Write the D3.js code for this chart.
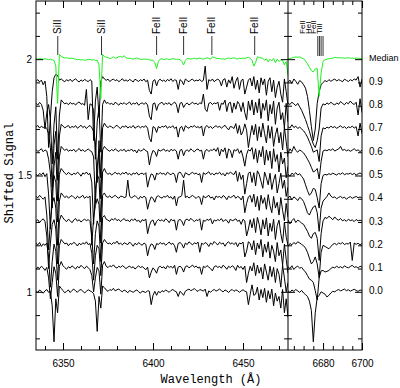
<!DOCTYPE html>
<html><head><meta charset="utf-8">
<script src="https://cdn.jsdelivr.net/npm/d3@7/dist/d3.min.js"></script>
<style>body{margin:0;background:#fff}svg{display:block}</style>
</head><body><svg id="c" width="400" height="388"></svg>
<script>
// ---- data ----
const leftRange = [6335, 6475];   // Å, left panel
const rightRange = [6662, 6700];  // Å, right panel
const leftWl = d3.range(6335, 6476, 1);
const rightWl = d3.range(6662, 6701, 1);
const seriesLabels = ["0.0","0.1","0.2","0.3","0.4","0.5","0.6","0.7","0.8","0.9","Median"];
const seriesOffsets = [1.0,1.1,1.2,1.3,1.4,1.5,1.6,1.7,1.8,1.9,2.0];
// deviations from offset, in units of 0.001
const s0L = [5,-3,8,2,-6,4,10,-2,3,-60, -215,-30,-90,25,15,5,-4,2,8,-3, 6,12,4,-2,7,10,3,-5,2,9, 4,0,-8,-40,-170,-20,-70,25,18,8, 2,10,6,15,4,9,12,5,0,8, 3,-4,6,2,-2,4,8,1,-6,3, 0,-3,5,2,-55,-15,2,-15,2,-4, 5,0,8,3,-2,6,10,4,0,-20, 2,-5,-15,3,8,12,5,9,14,6, 2,10,7,3,12,-20,4,-2,6,10, 3,7,12,5,0,8,4,-3,6,10, 2,8,5,-2,4,9,3,0,-55,-10, 30,-15,-10,20,-35,10,-25,15,-45,5, -30,12,-60,-5,-40,-20,-70,10,-90,-30, -110];
const s1L = [-4,6,0,10,3,-8,5,-40,-130,-60, 8,-20,-120,10,30,12,4,-3,8,2, 12,5,-2,9,3,14,6,0,10,4, -5,-30,-100,-40,5,-10,-110,15,30,10, 4,12,8,16,6,2,10,5,13,7, 0,6,11,3,8,-2,5,12,4,9, 2,-5,6,-40,-15,3,-6,-20,5,10, 3,8,-2,12,5,9,2,14,-25,6, 10,4,-15,8,12,3,9,15,5,11, 2,7,-25,10,4,13,6,0,-10,8, 12,5,9,2,15,7,-3,10,4,12, 6,-8,14,3,9,-4,11,-60,-20,10, -10,25,-30,15,-20,5,-45,20,-15,-50, 10,-35,5,-60,0,-25,-80,15,-40,-100, -60];
const s2L = [8,2,12,-5,6,0,10,-50,-180,-70, 5,-25,-150,0,25,15,6,10,-2,8, 4,13,7,-3,9,2,11,5,15,3, 8,-35,-150,-45,0,-15,-130,10,25,14, 6,10,3,12,8,18,5,9,2,11, 7,3,14,6,-4,9,2,12,5,0, 10,4,-45,-10,6,2,-18,8,3,12, 5,10,0,7,14,4,9,-2,-30,8, 12,5,-12,10,3,15,8,2,11,6, 14,-30,9,4,12,7,-5,10,3,16, 8,2,13,6,10,-4,9,15,5,11, 3,12,-6,10,6,14,-50,-25,15,8, -20,20,-40,10,-15,25,-50,5,-30,15, -55,0,-25,-70,12,-45,-20,-85,5,-60, -120];
const s3L = [3,10,-2,7,14,2,-60,-200,-90,-10, 10,-30,-180,5,30,18,8,2,12,6, -3,9,15,4,10,0,7,13,5,11, 2,-60,-180,-50,5,-20,-170,20,28,12, 8,3,14,9,16,6,11,2,10,15, 5,9,1,12,7,14,3,8,-2,10, 6,13,-50,-15,4,9,-15,3,11,5, 10,2,14,8,-3,12,6,9,-35,7, 11,4,-15,9,13,5,16,8,2,10, 6,14,-35,8,3,12,7,15,-8,9, 4,11,6,15,2,10,7,-5,13,5, 9,14,3,8,-10,12,5,-60,-30,10, -25,15,-45,20,-10,-55,10,-30,18,-60, -5,-40,12,-75,-15,8,-50,-90,0,-65, -100];
const s4L = [10,4,15,6,-2,8,-70,-220,-100,-20, 5,-40,-200,-10,25,15,5,12,3,9, 14,6,0,11,4,8,15,2,9,5, 12,-200,-80,-30,0,-25,-190,15,25,10, 6,13,4,9,15,7,2,11,10,5, 8,80,12,3,9,14,6,-2,10,4, 11,5,-45,-12,8,2,-15,9,13,6, 3,10,7,15,4,9,-2,12,-30,6, 8,14,80,5,11,3,9,15,7,2, 10,6,-25,13,4,9,15,3,8,-5, 12,6,10,3,14,8,-4,11,5,9, 15,2,10,6,-5,12,-60,-20,8,14, -15,20,-35,10,-50,15,-20,5,-45,18, -30,-60,10,-40,-15,-70,5,-50,-95,-20, -80];
const s5L = [6,-2,9,3,12,-5,8,-80,-230,-70, 0,-30,-200,5,30,20,10,4,13,7, 2,10,5,14,8,-3,11,6,15,4, 9,-30,-210,-60,5,-15,-200,15,30,12, 5,11,2,8,14,6,10,3,12,7, 15,4,9,1,11,6,13,2,8,10, 4,12,-50,-15,7,3,-20,10,5,13, 6,9,2,14,8,3,11,5,-30,10, 15,4,-10,12,7,2,9,14,6,11, 3,8,-30,12,5,10,16,4,9,2, 11,7,14,3,9,-2,12,6,15,8, 4,20,-25,13,-17,2,-80,-35,10,15, -30,12,-45,20,5,-25,-55,15,-10,-40, 10,-60,-20,5,-75,-35,10,-55,-20,-90, -50];
const s6L = [12,3,8,15,2,10,5,-30,-90,-240, -60,0,-210,-20,25,15,8,14,4,10, 6,13,2,9,16,5,11,3,8,14, 7,2,-20,-220,-60,0,-200,10,25,15, 9,4,12,6,15,8,3,11,7,13, 2,10,6,14,4,9,-3,12,5,8, 15,6,3,-55,-15,8,2,-18,12,5, 9,14,4,10,2,13,7,11,5,-30, 8,12,-15,6,10,3,15,7,2,11, 14,5,9,-30,6,12,3,10,8,15, 4,20,-16,13,2,19,-26,14,7,-23, 11,5,15,-5,8,-20,-60,-10,12,5, 20,-30,15,-45,8,-20,25,-55,10,-35, 5,-70,15,-40,-10,-85,0,-50,-25,-110, -60];
const s7L = [8,15,4,12,6,10,2,-20,-80,-250, -70,-10,-220,-30,20,12,5,10,15,4, 11,7,14,3,9,16,6,12,2,10, 15,5,-10,-60,-230,-50,-210,5,25,12, 6,13,9,3,11,16,7,2,12,8, 14,4,10,6,15,3,9,12,5,11, 7,14,3,-40,-55,10,6,-15,11,4, 12,8,15,3,10,6,14,2,9,-35, 5,11,-10,14,7,3,12,8,15,6, 10,4,13,-30,8,15,5,11,2,9, 14,7,12,3,10,16,5,-4,11,8, 2,23,-19,15,-26,-10,22,-5,-80,-30, 15,-25,20,-50,10,-35,25,-20,-60,15, -40,10,-75,-25,5,-60,-15,-90,8,-55, -120];
const s8L = [10,3,14,6,-20,-100,-30,5,-60,-250, -80,-5,-230,-40,25,15,8,12,4,14, 7,10,3,12,16,6,9,2,70,-60, 8,4,-20,-230,-70,-10,-200,5,25,10, 14,6,11,3,15,9,2,12,7,13, 5,10,16,4,11,7,14,2,9,12, 6,13,3,-45,-60,8,12,-20,5,10, 15,4,11,7,13,2,9,16,5,-30, 10,14,-8,6,12,3,9,15,7,11, 4,13,8,50,-15,-25,10,14,5,12, 8,16,-20,11,6,24,-25,10,15,-30, 12,-15,18,6,-25,14,-30,-60,20,-20, 25,-40,15,-30,30,-55,10,-20,25,-65, 5,-35,20,-80,-10,15,-60,-30,-95,10, -70];
const s9L = [5,12,2,10,-10,6,-60,-280,-150,-40, 20,35,30,10,15,8,3,12,6,14, 4,10,16,7,2,11,5,13,8,3, 12,6,-250,-80,-20,-150,5,25,15,9, 14,4,10,15,7,12,3,9,16,6, 11,5,13,8,2,14,9,4,12,7, 15,3,10,-35,-50,6,12,-15,8,14, 5,10,3,13,7,16,4,11,9,-30, 12,6,-10,15,8,3,11,14,5,10, 7,13,4,9,70,-30,12,6,15,3, 10,14,8,-15,12,16,-20,11,-4,25, -25,5,22,-30,8,14,-50,-20,10,18, -15,25,-30,10,-45,20,-10,15,-55,5, 20,-40,10,-65,-20,5,-50,-85,15,-40, -100];
const medL = [2,0,3,1,-1,2,0,-2,0,-3, -5,-30,-190,20,12,8,5,6,3,4, 4,2,0,-3,-1,-4,-2,-5,-3,-2, 0,-4,-2,-6,-5,-25,-170,20,12,8, 8,2,5,10,4,6,10,12,8,15, 6,3,4,2,0,3,5,2,0,-2, 1,-1,0,-3,-4,-5,-15,-40,-10,0, 2,-2,0,1,-2,0,2,1,-1,0, -2,-10,-25,-5,3,2,0,2,4,1, 3,5,2,0,3,6,4,0,10,8, 4,2,3,0,2,-1,3,5,2,4, 6,3,1,4,2,5,3,6,8,4, -5,-30,-15,10,8,5,4,-5,2,-12, 0,-8,3,-15,0,-10,-3,-5,-25,-10, -70];
const s0R = [5,-3,8,2,10,4,-2,6,-5,-12, -20,-40,-80,-215,-90,-25,-15,0,-5,-10, -22,-15,-5,2,0,6,10,4,8,12, 5,9,3,7,11,6,2,8,5];
const s1R = [8,0,12,-4,6,10,2,5,-6,-15, -30,-45,-50,-60,-95,-135,-40,-10,-8,-15, -12,-8,0,6,3,10,4,8,2,12, 6,3,9,14,5,8,2,10,6];
const s2R = [-5,8,2,12,5,15,10,4,-2,-12, -30,-55,-80,-70,-50,-80,-140,-30,0,-5, -10,-15,-6,4,8,2,10,6,12,3, 8,5,14,-65,10,4,9,2,7];
const s3R = [10,-8,6,15,-2,8,3,-5,-10,-25, -40,-60,-70,-50,-45,-70,-165,-50,5,20, 15,25,18,10,22,12,8,15,5,10, 3,12,6,9,2,11,5,8,4];
const s4R = [3,12,-5,8,2,-8,6,0,-12,-35, -60,-70,-50,-35,-30,-60,-140,-40,-10,0, 10,25,12,5,8,0,6,10,3,7, -2,5,9,2,6,10,4,8,3];
const s5R = [6,-3,10,4,12,2,8,-4,-15,-40, -65,-85,-75,-55,-60,-95,-140,-35,0,5, 2,8,4,10,6,2,9,5,12,3, 8,6,10,4,9,2,7,11,5];
const s6R = [-6,15,3,25,8,0,10,4,-3,-15, -30,-45,-65,-85,-80,-70,-115,-40,5,10, 6,12,8,15,5,10,14,25,8,12, 6,10,4,9,15,7,10,3,8];
const s7R = [10,4,18,6,12,2,8,0,-8,-20, -35,-55,-75,-100,-95,-90,-140,-30,5,0, 8,4,12,6,10,3,8,14,5,10, 2,9,6,12,4,10,-30,25,-20];
const s8R = [12,5,15,8,0,10,-5,-20,-40,-60, -85,-110,-140,-165,-180,-150,-100,-10,8,3, 12,6,15,8,3,12,6,18,10,4, 14,8,20,10,5,15,-40,30,-30];
const s9R = [0,10,-5,15,5,-8,8,2,-10,-25, -60,-120,-190,-250,-200,-90,-40,-10,0,8, 3,12,5,10,15,6,12,8,3,14, 9,4,12,7,15,10,25,-20,15];
const medR = [0,3,5,8,10,8,10,5,2,-8, -20,-35,-50,-55,-42,-40,-160,-60,-10,-3, 0,2,3,5,8,6,7,5,6,4, 5,6,4,5,3,5,4,3,4];
const leftSeries = [s0L,s1L,s2L,s3L,s4L,s5L,s6L,s7L,s8L,s9L,medL];
const rightSeries = [s0R,s1R,s2R,s3R,s4R,s5R,s6R,s7R,s8R,s9R,medR];
const lineNames = ["SiII","SiII","FeII","FeII","FeII","FeII"];
const lineWl = [6347.1,6371.4,6402.0,6417.0,6432.7,6456.5];
const clusterNames = ["FeII","HeI","FeII","TiII"];
const clusterWl = [6677.3,6678.15,6679.0,6680.0];
const yMajor = [1,1.5,2];
const leftMajor = [6350,6400,6450];
const rightMajor = [6680,6700];

// ---- layout ----
const svg = d3.select("#c");
const L = 36, B = 288, R = 362, T = 1, BOT = 350;
const xL = d3.scaleLinear().domain(leftRange).range([L, B]);
const xR = d3.scaleLinear().domain(rightRange).range([B, R]);
const y = d3.scaleLinear().domain([0.75, 2.25]).range([BOT, T]);
const sans = "'Liberation Sans', Arial, Helvetica, sans-serif";
const mono = "'Liberation Mono', 'Courier New', monospace";

const defs = svg.append("defs");
defs.append("clipPath").attr("id","cl").append("rect").attr("x",L).attr("y",T).attr("width",B-L).attr("height",BOT-T);
defs.append("clipPath").attr("id","cr").append("rect").attr("x",B).attr("y",T).attr("width",R-B).attr("height",BOT-T);

function drawPanel(xs, wl, series, clip){
  const g = svg.append("g").attr("clip-path", `url(#${clip})`);
  series.forEach((dev, i) => {
    const off = seriesOffsets[i];
    const pts = wl.map((w, k) => [w, off + dev[k] / 1000]).filter(p => !isNaN(p[1]));
    const line = d3.line().x(p => xs(p[0])).y(p => y(p[1]));
    g.append("path").datum(pts).attr("d", line)
      .attr("fill","none")
      .attr("stroke", seriesLabels[i] === "Median" ? "#1ff01f" : "#000")
      .attr("stroke-width", 1).attr("stroke-linejoin","round");
  });
}
drawPanel(xL, leftWl, leftSeries, "cl");
drawPanel(xR, rightWl, rightSeries, "cr");

// frame and divider
svg.append("rect").attr("x",L).attr("y",T).attr("width",R-L).attr("height",BOT-T)
  .attr("fill","none").attr("stroke","#000").attr("stroke-width",1);
svg.append("line").attr("x1",B).attr("x2",B).attr("y1",T).attr("y2",BOT).attr("stroke","#000");

function styleAxis(g){ g.select(".domain").remove(); g.selectAll("line").attr("stroke","#000");
  g.selectAll("text").attr("font-family", sans).attr("font-size", 10).attr("fill","#000"); }

const leftMinor = d3.range(6340, 6475, 10).filter(v => !leftMajor.includes(v));
const rightMinor = d3.range(6665, 6700, 5).filter(v => !rightMajor.includes(v));
// bottom axes
svg.append("g").attr("transform",`translate(0,${BOT})`).call(d3.axisBottom(xL).tickValues(leftMinor).tickSize(-4).tickFormat("")).call(styleAxis);
svg.append("g").attr("transform",`translate(0,${BOT})`).call(d3.axisBottom(xL).tickValues(leftMajor).tickSize(-7).tickPadding(10).tickFormat(d3.format("d"))).call(styleAxis);
svg.append("g").attr("transform",`translate(0,${BOT})`).call(d3.axisBottom(xR).tickValues(rightMinor).tickSize(-4).tickFormat("")).call(styleAxis);
svg.append("g").attr("transform",`translate(0,${BOT})`).call(d3.axisBottom(xR).tickValues(rightMajor).tickSize(-7).tickPadding(10).tickFormat(d3.format("d"))).call(styleAxis);
// top axes
svg.append("g").attr("transform",`translate(0,${T})`).call(d3.axisTop(xL).tickValues(leftMinor).tickSize(-4).tickFormat("")).call(styleAxis);
svg.append("g").attr("transform",`translate(0,${T})`).call(d3.axisTop(xL).tickValues(leftMajor).tickSize(-7).tickFormat("")).call(styleAxis);
svg.append("g").attr("transform",`translate(0,${T})`).call(d3.axisTop(xR).tickValues(rightMinor).tickSize(-4).tickFormat("")).call(styleAxis);
svg.append("g").attr("transform",`translate(0,${T})`).call(d3.axisTop(xR).tickValues(rightMajor).tickSize(-7).tickFormat("")).call(styleAxis);
// y axes
const yMinor = d3.range(8, 23).map(v => v / 10).filter(v => !yMajor.includes(v));
svg.append("g").attr("transform",`translate(${L},0)`).call(d3.axisLeft(y).tickValues(yMinor).tickSize(-4).tickFormat("")).call(styleAxis);
svg.append("g").attr("transform",`translate(${L},0)`).call(d3.axisLeft(y).tickValues(yMajor).tickSize(-7).tickPadding(4).tickFormat(d3.format("~g"))).call(styleAxis);
[[R,-4,yMinor],[R,-7,yMajor],[B,-4,yMinor],[B,-7,yMajor]].forEach(([x,s,v]) => {
  svg.append("g").attr("transform",`translate(${x},0)`).call(d3.axisRight(y).tickValues(v).tickSize(s).tickFormat("")).call(styleAxis);
});
[[B,-4,yMinor],[B,-7,yMajor]].forEach(([x,s,v]) => {
  svg.append("g").attr("transform",`translate(${x},0)`).call(d3.axisLeft(y).tickValues(v).tickSize(s).tickFormat("")).call(styleAxis);
});

// spectral line identifications
const idg = svg.append("g");
lineNames.forEach((n, i) => {
  const x = xL(lineWl[i]);
  idg.append("line").attr("x1",x).attr("x2",x).attr("y1",36).attr("y2",55).attr("stroke","#333").attr("stroke-width",1);
  idg.append("text").attr("transform",`translate(${x},34) rotate(-90)`).attr("dy","0.35em")
    .attr("font-family",sans).attr("font-size",10).text(n);
});
const clusterTextX = [302.5, 308, 313.5, 319];
clusterNames.forEach((n, i) => {
  const x = xR(clusterWl[i]);
  idg.append("line").attr("x1",x).attr("x2",x).attr("y1",36).attr("y2",56).attr("stroke","#333").attr("stroke-width",1);
  idg.append("text").attr("transform",`translate(${clusterTextX[i]},34) rotate(-90)`).attr("dy","0.35em")
    .attr("font-family",sans).attr("font-size",8).text(n);
});

// series labels
seriesLabels.forEach((s, i) => {
  svg.append("text").attr("x",369).attr("y", y(seriesOffsets[i]) - 1).attr("dy","0.35em")
    .attr("font-family",sans).attr("font-size", s === "Median" ? 9 : 10).text(s);
});

// axis titles
svg.append("text").attr("x",211).attr("y",383).attr("text-anchor","middle")
  .attr("font-family",mono).attr("font-size",12).text("Wavelength (Å)");
svg.append("text").attr("transform","translate(13,173) rotate(-90)").attr("text-anchor","middle")
  .attr("font-family",mono).attr("font-size",12).text("Shifted Signal");
</script></body></html>
